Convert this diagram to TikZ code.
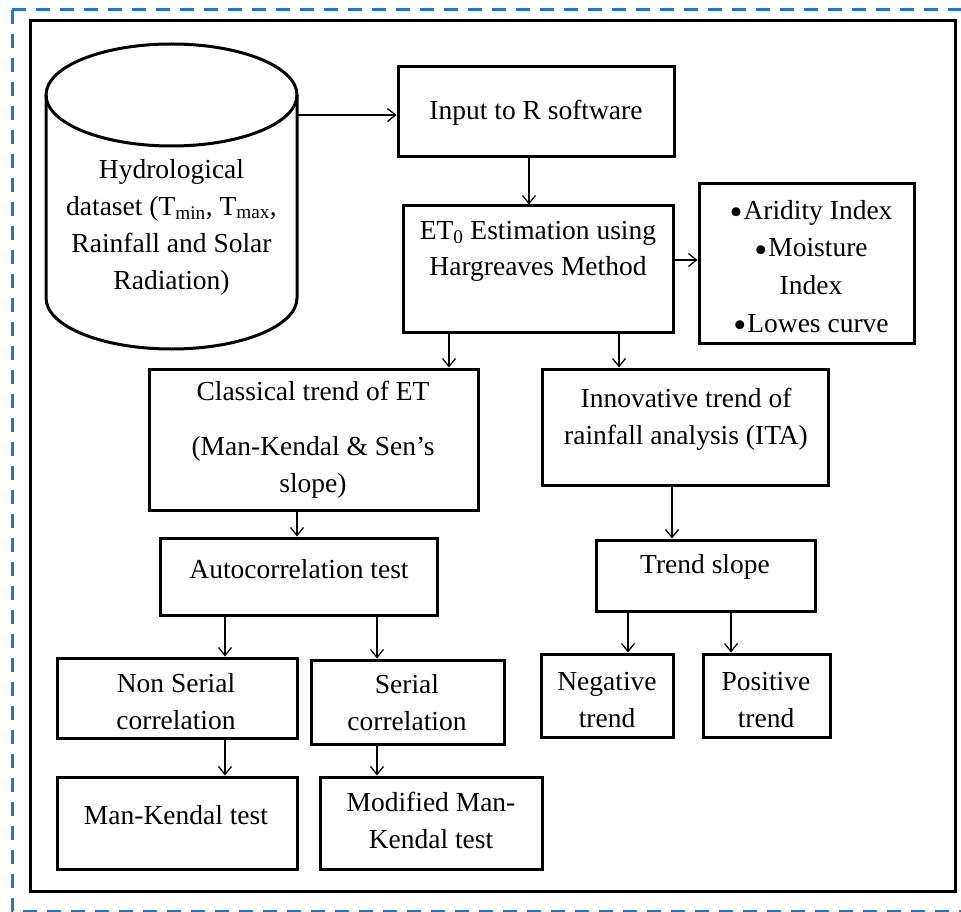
\documentclass[tikz,border=0pt]{standalone}
\usepackage{fontspec}
\setmainfont{Liberation Serif}
\usetikzlibrary{arrows.meta}
\definecolor{dashblue}{RGB}{36,118,196}
\newcommand{\bigbul}{\raisebox{-5.5pt}{\scalebox{1.35}{\textbullet}}\kern1pt}
\tikzset{
  box/.style={draw=black, line width=3pt, inner sep=0pt, rectangle},
  txt/.style={align=center, inner sep=0pt, font=\fontsize{27.5}{37}\selectfont},
  arr/.style={line width=1.3pt, -{Straight Barb[length=8pt,width=13pt,line width=1.3pt]}},
}
\begin{document}
\begin{tikzpicture}[x=1pt,y=-1pt]
\useasboundingbox (0,0) rectangle (961,912);
% outer dashed frame
\draw[dashblue, line width=3pt, dash pattern=on 14pt off 10pt] (12,10) rectangle (966,911);
% inner frame
\draw[line width=3pt] (30,21) rectangle (955,891);

% cylinder
\draw[line width=3pt] (46,95) -- (46,298) arc[start angle=180, end angle=360, x radius=125.5, y radius=-51] -- (297,95);
\draw[line width=3pt] (171.5,95) ellipse[x radius=125.5, y radius=51];
\node[txt] (cyl-t) at (171.5,227) {Hydrological\\dataset (T\textsubscript{min}, T\textsubscript{max},\\Rainfall and Solar\\Radiation)};
\coordinate (cylr) at (297,115);

% boxes
\node[box, minimum width=276pt, minimum height=90pt] (input) at (536,112) {};
\node[txt] (input-t) at (536,113) {Input to R software};

\node[box, minimum width=270pt, minimum height=126pt] (et) at (538,269) {};
\node[txt, font=\fontsize{27.5}{36}\selectfont] (et-t) at (538,251) {ET\textsubscript{0} Estimation using\\Hargreaves Method};

\node[box, minimum width=215pt, minimum height=159pt] (arid) at (806.5,263.5) {};
\node[txt, font=\fontsize{27.5}{37.7}\selectfont] (arid-t) at (811,269) {\bigbul Aridity Index\\\bigbul Moisture\\Index\\\bigbul Lowes curve};

\node[box, minimum width=329pt, minimum height=141pt] (class) at (313.5,439.5) {};
\node[txt] (class-t) at (313,440) {Classical trend of ET\\[18pt](Man-Kendal \& Sen’s\\slope)};

\node[box, minimum width=286pt, minimum height=116pt] (innov) at (685,427) {};
\node[txt] (innov-t) at (686,419) {Innovative trend of\\rainfall analysis (ITA)};

\node[box, minimum width=277pt, minimum height=77pt] (auto) at (298.5,576.5) {};
\node[txt] (auto-t) at (299,569) {Autocorrelation test};

\node[box, minimum width=219pt, minimum height=71pt] (trend) at (705.5,575.5) {};
\node[txt] (trend-t) at (705,567) {Trend slope};

\node[box, minimum width=240pt, minimum height=80pt] (nons) at (177,698) {};
\node[txt] (nons-t) at (176,702) {Non Serial\\correlation};

\node[box, minimum width=193pt, minimum height=84pt] (ser) at (407.5,702) {};
\node[txt] (ser-t) at (407,703) {Serial\\correlation};

\node[box, minimum width=132pt, minimum height=83pt] (neg) at (607,695.5) {};
\node[txt] (neg-t) at (607,700) {Negative\\trend};

\node[box, minimum width=127pt, minimum height=83pt] (pos) at (766.5,695.5) {};
\node[txt] (pos-t) at (766,700) {Positive\\trend};

\node[box, minimum width=240pt, minimum height=92pt] (mk) at (177,823) {};
\node[txt] (mk-t) at (176,815) {Man-Kendal test};

\node[box, minimum width=222pt, minimum height=92pt] (mmk) at (431,823) {};
\node[txt] (mmk-t) at (431,820) {Modified Man-\\Kendal test};

% connectors
\draw[arr] (cylr) -- (cylr -| input.west);
\draw[arr] (529,0 |- input.south) -- (529,0 |- et.north);
\draw[arr] (et.east |- 0,260) -- (arid.west |- 0,260);
\draw[arr] (449,0 |- et.south) -- (449,0 |- class.north);
\draw[arr] (619,0 |- et.south) -- (619,0 |- innov.north);
\draw[arr] (297,0 |- class.south) -- (297,0 |- auto.north);
\draw[arr] (672,0 |- innov.south) -- (672,0 |- trend.north);
\draw[arr] (225,0 |- auto.south) -- (225,0 |- nons.north);
\draw[arr] (377,0 |- auto.south) -- (377,0 |- ser.north);
\draw[arr] (628,0 |- trend.south) -- (628,0 |- neg.north);
\draw[arr] (731,0 |- trend.south) -- (731,0 |- pos.north);
\draw[arr] (225,0 |- nons.south) -- (225,0 |- mk.north);
\draw[arr] (377,0 |- ser.south) -- (377,0 |- mmk.north);
\end{tikzpicture}
\end{document}
